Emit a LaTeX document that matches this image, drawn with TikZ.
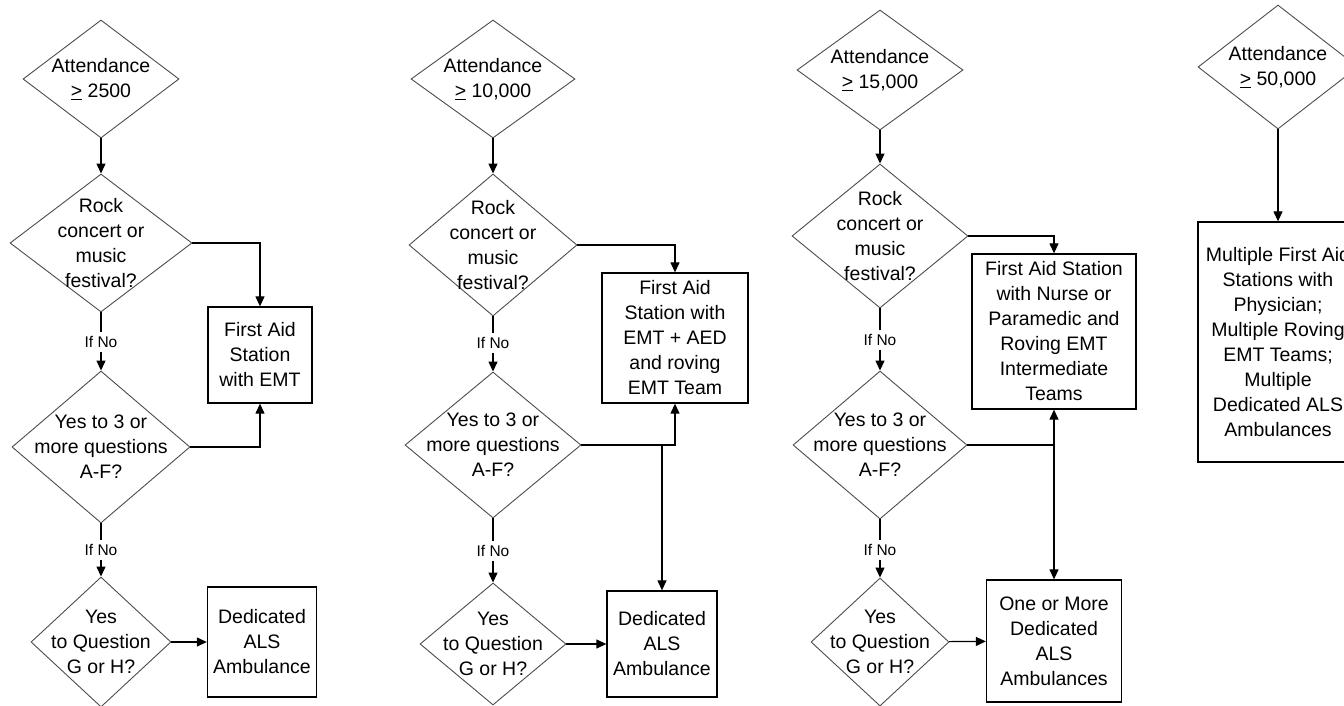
\documentclass[tikz,border=0pt]{standalone}
\usepackage{fontspec}
\setmainfont{Liberation Sans}
\usepackage{tikz}
\usetikzlibrary{shapes.geometric,arrows.meta}

\begin{document}
\begin{tikzpicture}[x=1pt,y=-1pt,
  dia/.style={diamond,draw=black!70,line width=0.9pt,inner sep=0pt},
  txt/.style={align=center,inner sep=0pt,font=\fontsize{19.5}{25}\selectfont},
  box/.style={draw,line width=1.3pt,inner sep=0pt,align=center,font=\fontsize{19.5}{25}\selectfont},
  ifno/.style={inner sep=4pt,font=\fontsize{15.5}{17}\selectfont},
  arr/.style={-{Triangle[length=10pt,width=9pt]},line width=1.2pt},
  every edge/.style={draw,line width=1.2pt}]
  \clip (0,0) rectangle (1344,705);
  % attendance >= 2500
  \node[dia,minimum width=156,minimum height=118] (att1) at (101,79) {};
  \node[txt] (att1t) at (att1) {Attendance\\\underline{>}~2500};
  \node[dia,minimum width=182,minimum height=138] (rock1) at (101,243) {};
  \node[txt] (rock1t) at (rock1) {Rock\\concert or\\music\\festival?};
  \node[ifno] (no1a) at (101,342) {If No};
  \node[dia,minimum width=178,minimum height=152] (que1) at (101,447) {};
  \node[txt] (que1t) at (que1) {Yes to 3 or\\more questions\\A-F?};
  \node[ifno] (no1b) at (101,550) {If No};
  \node[dia,minimum width=140,minimum height=130] (gh1) at (101,642) {};
  \node[txt] (gh1t) at (gh1) {Yes\\to Question\\G or H?};
  \node[box,minimum width=104,minimum height=96] (aid1) at (260,355) {First Aid\\Station\\with EMT};
  \node[box,minimum width=109,minimum height=110] (als1) at (262,642) {Dedicated\\ALS\\Ambulance};
  \path (att1) edge[arr] (rock1);
  \path (rock1) edge (no1a) (no1a) edge[arr] (que1);
  \path (que1) edge (no1b) (no1b) edge[arr] (gh1);
  \path (gh1) edge[arr] (als1);
  \draw[arr] (rock1.east) -| (aid1.north);
  \draw[arr] (que1.east) -| (aid1.south);
  % attendance >= 10,000
  \node[dia,minimum width=164,minimum height=118] (att2) at (493,79) {};
  \node[txt] (att2t) at (att2) {Attendance\\\underline{>}~10,000};
  \node[dia,minimum width=168,minimum height=142] (rock2) at (493,245) {};
  \node[txt] (rock2t) at (rock2) {Rock\\concert or\\music\\festival?};
  \node[ifno] (no2a) at (493,343) {If No};
  \node[dia,minimum width=176,minimum height=146] (que2) at (493,445) {};
  \node[txt] (que2t) at (que2) {Yes to 3 or\\more questions\\A-F?};
  \node[ifno] (no2b) at (493,551) {If No};
  \node[dia,minimum width=146,minimum height=122] (gh2) at (493,644) {};
  \node[txt] (gh2t) at (gh2) {Yes\\to Question\\G or H?};
  \node[box,minimum width=146,minimum height=130] (aid2) at (675,338) {First Aid\\Station with\\EMT + AED\\and roving\\EMT Team};
  \node[box,minimum width=110,minimum height=106] (als2) at (662,644) {Dedicated\\ALS\\Ambulance};
  \coordinate (split2) at (als2.north |- que2.east);
  \path (att2) edge[arr] (rock2);
  \path (rock2) edge (no2a) (no2a) edge[arr] (que2);
  \path (que2) edge (no2b) (no2b) edge[arr] (gh2);
  \path (gh2) edge[arr] (als2);
  \draw[arr] (rock2.east) -| (aid2.north);
  \draw[arr] (que2.east) -| (aid2.south);
  \draw[arr] (split2) -- (als2.north);
  % attendance >= 15,000
  \node[dia,minimum width=166,minimum height=120] (att3) at (880,70) {};
  \node[txt] (att3t) at (att3) {Attendance\\\underline{>}~15,000};
  \node[dia,minimum width=176,minimum height=144] (rock3) at (880,236) {};
  \node[txt] (rock3t) at (rock3) {Rock\\concert or\\music\\festival?};
  \node[ifno] (no3a) at (880,340) {If No};
  \node[dia,minimum width=174,minimum height=148] (que3) at (880,445) {};
  \node[txt] (que3t) at (que3) {Yes to 3 or\\more questions\\A-F?};
  \node[ifno] (no3b) at (880,550) {If No};
  \node[dia,minimum width=138,minimum height=128] (gh3) at (880,642) {};
  \node[txt] (gh3t) at (gh3) {Yes\\to Question\\G or H?};
  \node[box,minimum width=164,minimum height=155] (aid3) at (1054,331.5) {First Aid Station\\with Nurse or\\Paramedic and\\Roving EMT\\Intermediate\\Teams};
  \node[box,minimum width=135,minimum height=122] (als3) at (1054,641) {One or More\\Dedicated\\ALS\\Ambulances};
  \coordinate (split3) at (aid3.south |- que3.east);
  \path (att3) edge[arr] (rock3);
  \path (rock3) edge (no3a) (no3a) edge[arr] (que3);
  \path (que3) edge (no3b) (no3b) edge[arr] (gh3);
  \path (gh3) edge[arr] (als3);
  \draw[arr] (rock3.east) -| (aid3.north);
  \draw[arr] (que3.east) -| (aid3.south);
  \draw[arr] (split3) -- (als3.north);
  % attendance >= 50,000
  \node[dia,minimum width=160,minimum height=124] (att4) at (1278,67) {};
  \node[txt] (att4t) at (att4) {Attendance\\\underline{>}~50,000};
  \node[box,minimum width=160,minimum height=240] (aid4) at (1278,342) {Multiple First Aid\\Stations with\\Physician;\\Multiple Roving\\EMT Teams;\\Multiple\\Dedicated ALS\\Ambulances};
  \path (att4) edge[arr] (aid4);
\end{tikzpicture}
\end{document}
